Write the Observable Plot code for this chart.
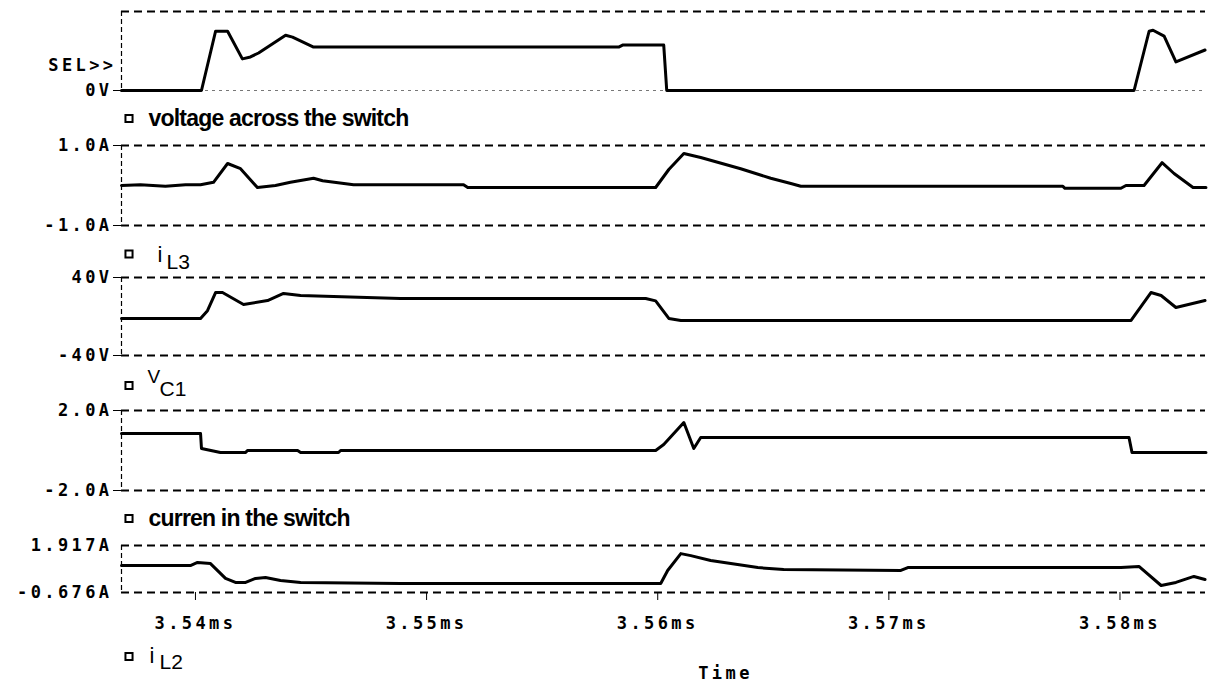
<!DOCTYPE html>
<html>
<head>
<meta charset="utf-8">
<script src="https://cdn.jsdelivr.net/npm/d3@7"></script>
<script src="https://cdn.jsdelivr.net/npm/@observablehq/plot@0.6"></script>
<style>
  html, body { margin: 0; padding: 0; background: #fff; }
  #chart { position: relative; width: 1209px; height: 690px; overflow: hidden; background: #fff; }
  #chart .panel { position: absolute; left: 0; }
</style>
</head>
<body>
<div id="chart"></div>
<script>
// ---------- DATA ----------
const timeDomain = [3.5368, 3.5837];           // ms
const timeTicks = [3.54, 3.55, 3.56, 3.57, 3.58];

// voltage across the switch (V)
const vswT = [3.53680, 3.54017, 3.54026, 3.54087, 3.54139, 3.54203, 3.54238, 3.54273, 3.54390, 3.54420, 3.54511,
              3.55831, 3.55848, 3.56026, 3.56039, 3.58061, 3.58126, 3.58143, 3.58191, 3.58242, 3.58368];
const vswV = [0, 0, 0, 60, 60, 32, 34, 38, 56, 54, 44, 44, 46, 46, 0, 0, 60, 61, 55, 29, 41];

// i_L3 (A)
const iL3T = [3.53680, 3.53762, 3.53870, 3.53957, 3.54022, 3.54078, 3.54139, 3.54195, 3.54268, 3.54346, 3.54411,
              3.54511, 3.54550, 3.54684, 3.55160, 3.55178, 3.55991, 3.56048, 3.56113, 3.56186, 3.56359, 3.56489,
              3.56576, 3.56619, 3.57753, 3.57762, 3.58004, 3.58026, 3.58104, 3.58182, 3.58234, 3.58316, 3.58372];
const iL3V = [0, 0.02, -0.02, 0.02, 0.02, 0.08, 0.55, 0.42, -0.05, 0, 0.08,
              0.18, 0.12, 0.02, 0.02, -0.05, -0.05, 0.4, 0.8, 0.7, 0.42, 0.18,
              0.05, -0.02, -0.02, -0.07, -0.07, 0, 0, 0.57, 0.3, -0.05, -0.05];

// V_C1 (V)
const vC1T = [3.53680, 3.54022, 3.54052, 3.54087, 3.54117, 3.54208, 3.54312, 3.54381, 3.54455, 3.54597, 3.54887,
              3.55948, 3.55991, 3.56048, 3.56100, 3.58048, 3.58134, 3.58178, 3.58242, 3.58368];
const vC1V = [-2, -2, 6, 24.6, 24.6, 12.3, 16.4, 23.6, 21.5, 20.5, 18.5,
              18.5, 16, -2, -4, -4, 24.6, 21.5, 9.2, 16.4];

// current in the switch (A)
const iswT = [3.53680, 3.54022, 3.54026, 3.54108, 3.54217, 3.54225, 3.54442, 3.54455, 3.54619, 3.54628,
              3.55991, 3.56026, 3.56113, 3.56156, 3.56186, 3.58039, 3.58052, 3.58372];
const iswV = [0.85, 0.85, 0.1, -0.1, -0.1, 0, 0, -0.1, -0.1, 0,
              0, 0.3, 1.4, 0.1, 0.65, 0.65, -0.1, -0.1];

// i_L2 (A)
const iL2T = [3.53680, 3.53978, 3.54009, 3.54065, 3.54130, 3.54173, 3.54217, 3.54260, 3.54303, 3.54368, 3.54455,
              3.54887, 3.56013, 3.56043, 3.56100, 3.56143, 3.56229, 3.56433, 3.56545, 3.57052, 3.57082,
              3.58004, 3.58082, 3.58178, 3.58242, 3.58320, 3.58368];
const iL2V = [0.81, 0.81, 0.98, 0.92, 0.10, -0.12, -0.12, 0.10, 0.15, -0.01, -0.12,
              -0.18, -0.18, 0.54, 1.47, 1.36, 1.09, 0.70, 0.59, 0.54, 0.70,
              0.70, 0.76, -0.29, -0.12, 0.21, 0.04];

// y-axis ranges and tick labels
const vswDomain = [0, 80],         vswTicks = [0],              vswLabels = ["0V"];
const iL3Domain = [-1, 1],         iL3Ticks = [-1, 1],          iL3Labels = ["-1.0A", "1.0A"];
const vC1Domain = [-40, 40],       vC1Ticks = [-40, 40],        vC1Labels = ["-40V", "40V"];
const iswDomain = [-2, 2],         iswTicks = [-2, 2],          iswLabels = ["-2.0A", "2.0A"];
const iL2Domain = [-0.676, 1.917], iL2Ticks = [-0.676, 1.917],  iL2Labels = ["-0.676A", "1.917A"];

// ---------- DRAWING ----------
const MONO = "font-family: 'DejaVu Sans Mono', monospace; font-weight: bold; font-size: 17px; letter-spacing: 3.4px; overflow: visible; background: transparent;";
const SANS = "'Liberation Sans', Arial, sans-serif";
const dash = {stroke: "black", strokeWidth: 1.8, strokeDasharray: "8,5"};
const sansSpacing = new Map([
  ["voltage across the switch", "-0.8px"],
  ["curren in the switch", "-0.8px"],
  ["i", "0px"], ["L3", "0px"], ["L2", "0px"], ["V", "0px"], ["C1", "0px"]
]);

function legendSquare(dx, dy) {
  return Plot.dot([0], {frameAnchor: "bottom-left", dx, dy, symbol: "square", r: 4, stroke: "black", strokeWidth: 2, fill: "white"});
}
function legendText(text, dx, dy, size, weight) {
  return Plot.text([text], {frameAnchor: "bottom-left", dx, dy, textAnchor: "start", lineAnchor: "middle",
    fontFamily: SANS, fontSize: size, fontWeight: weight, fill: "black"});
}

function panel({t, v, domain, ticks, labels, top, mt, ph, h, tickSize = 8, tickPadding = 1, extra = [], xAxis = false, zeroLight = false}) {
  const data = t.map((ti, i) => ({t: ti, v: v[i]}));
  const marks = [
    Plot.ruleY([domain[1]], dash),
    zeroLight
      ? Plot.ruleY([domain[0]], {stroke: "#777", strokeWidth: 1.1, strokeDasharray: "3,4"})
      : Plot.ruleY([domain[0]], dash),
    Plot.ruleX([timeDomain[0]], {stroke: "black", strokeWidth: 1.2, strokeDasharray: "5,3"}),
    Plot.axisY({ticks, tickFormat: d => labels[ticks.indexOf(d)], tickSize, tickPadding, label: null}),
    Plot.line(data, {x: "t", y: "v", stroke: "black", strokeWidth: 3, strokeLinejoin: "round", strokeLinecap: "round"}),
    ...extra
  ];
  if (xAxis) {
    marks.push(Plot.axisX({ticks: timeTicks, tickFormat: d => d3.format(".2f")(d) + "ms", tickSize: 8, tickPadding: 16, label: null}));
  }
  const svg = Plot.plot({
    width: 1209, height: h,
    marginLeft: 121, marginRight: 4, marginTop: mt, marginBottom: h - mt - ph,
    x: {domain: timeDomain, axis: xAxis ? undefined : null, label: null},
    y: {domain, label: null},
    style: MONO,
    marks
  });
  // sans-serif legend texts must not inherit the wide monospace letter spacing
  d3.select(svg).selectAll("text").each(function () {
    const s = this.textContent;
    if (sansSpacing.has(s) && this.closest("g[font-family]")) this.style.letterSpacing = sansSpacing.get(s);
  });
  const wrap = document.createElement("div");
  wrap.className = "panel";
  wrap.style.top = top + "px";
  wrap.appendChild(svg);
  document.getElementById("chart").appendChild(wrap);
}

panel({t: vswT, v: vswV, domain: vswDomain, ticks: vswTicks, labels: vswLabels,
  top: 0, mt: 11, ph: 79, h: 130, zeroLight: true,
  extra: [
    Plot.text(["SEL>>"], {frameAnchor: "left", dx: -5, dy: 14.5, textAnchor: "end", lineAnchor: "middle"}),
    legendSquare(7.5, 28),
    legendText("voltage across the switch", 27, 28, 23, "bold")
  ]});

panel({t: iL3T, v: iL3V, domain: iL3Domain, ticks: iL3Ticks, labels: iL3Labels,
  top: 130, mt: 15, ph: 80, h: 135,
  extra: [
    legendSquare(7.5, 28.5),
    legendText("i", 36, 29, 22, "normal"),
    legendText("L3", 45, 37, 21, "normal")
  ]});

panel({t: vC1T, v: vC1V, domain: vC1Domain, ticks: vC1Ticks, labels: vC1Labels,
  top: 265, mt: 12, ph: 78, h: 135,
  extra: [
    legendSquare(7.5, 30),
    legendText("V", 26, 21, 19, "normal"),
    legendText("C1", 38, 34, 21, "normal")
  ]});

panel({t: iswT, v: iswV, domain: iswDomain, ticks: iswTicks, labels: iswLabels,
  top: 400, mt: 10, ph: 80, h: 130,
  extra: [
    legendSquare(7.5, 28),
    legendText("curren in the switch", 27, 28, 23, "bold")
  ]});

panel({t: iL2T, v: iL2V, domain: iL2Domain, ticks: iL2Ticks, labels: iL2Labels,
  top: 530, mt: 15, ph: 47, h: 160, tickSize: 0, tickPadding: 9, xAxis: true,
  extra: [
    legendSquare(7.5, 64),
    legendText("i", 28, 63, 22, "normal"),
    legendText("L2", 38, 70, 21, "normal"),
    Plot.text(["Time"], {frameAnchor: "bottom", dx: 62, dy: 81, lineAnchor: "middle"})
  ]});
</script>
</body>
</html>
